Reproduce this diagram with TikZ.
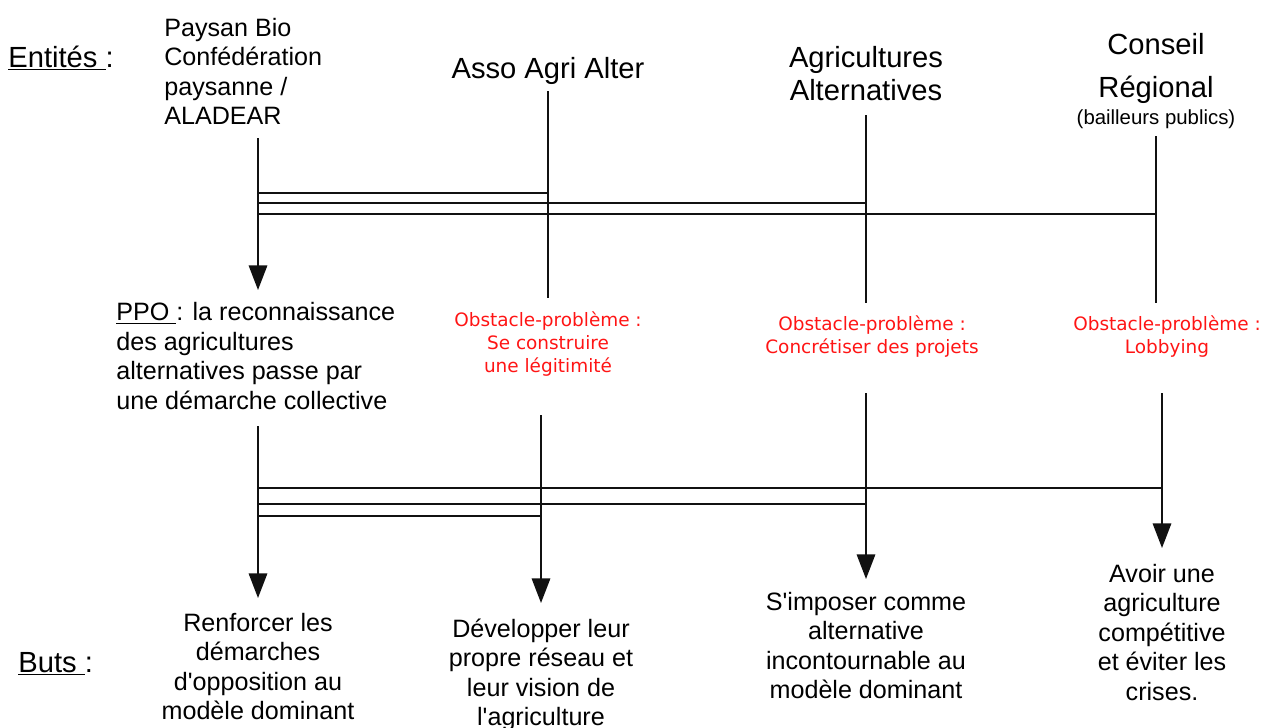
\documentclass[tikz,border=0pt]{standalone}
\usepackage{fontspec}
\setmainfont{Liberation Sans}
\newfontfamily\obsfont{DejaVu Sans}
\usetikzlibrary{arrows.meta,calc}
\definecolor{ink}{HTML}{111111}
\definecolor{obsred}{HTML}{FF1414}

\tikzset{
  txt/.style={inner sep=0pt, anchor=base, align=center},
  title/.style={txt, font=\fontsize{16.6}{19}\selectfont},
  body/.style={txt, font=\fontsize{14.3}{16.7}\selectfont},
  obs/.style={txt, text=obsred, font=\obsfont\fontsize{10.5}{13}\selectfont},
  link/.style={draw=ink, line width=1pt},
  arrow/.style={link, -{Triangle[length=14pt, width=10.5pt]}},
}

\begin{document}
\begin{tikzpicture}[x=0.02cm, y=-0.02cm]
  \useasboundingbox (0,0) rectangle (1264,727);

  % Row headings
  \node[title, anchor=base west] (entites) at (8,67) {\underline{Entités\ }:};
  \node[title, anchor=base west] (buts) at (18,672) {\underline{Buts\ }:};

  % Entities (multi-line nodes sit on their last baseline)
  \node[body, anchor=base west, align=left] (paysan) at (164,124.5)
    {Paysan Bio\\Confédération\\paysanne /\\ALADEAR};
  \node[title] (asso) at (548,78) {Asso Agri Alter};
  \node[title, font=\fontsize{16.6}{18.7}\selectfont] (agri) at (866,100)
    {Agricultures\\Alternatives};
  \node[title, font=\fontsize{16.6}{24.4}\selectfont] (conseil) at (1156,97)
    {Conseil\\Régional};
  \node[title, font=\fontsize{11.6}{14}\selectfont] (bailleurs) at (1156,124)
    {(bailleurs publics)};

  % PPO and obstacles
  \node[body, anchor=base west, align=left] (ppo) at (116,409)
    {\underline{PPO\ }: la reconnaissance\\des agricultures\\alternatives passe par\\une démarche collective};
  \node[obs] (obs2) at (548,372) {Obstacle-problème :\\Se construire\\une légitimité};
  \node[obs] (obs3) at (872,353) {Obstacle-problème :\\Concrétiser des projets};
  \node[obs] (obs4) at (1167,353) {Obstacle-problème :\\Lobbying};

  % Goals
  \node[body] (goal1) at (258,719.5)
    {Renforcer les\\démarches\\d\textquotesingle opposition au\\modèle dominant};
  \node[body] (goal2) at (541,725.5)
    {Développer leur\\propre réseau et\\leur vision de\\l\textquotesingle agriculture};
  \node[body] (goal3) at (866,698.5)
    {S\textquotesingle imposer comme\\alternative\\incontournable au\\modèle dominant};
  \node[body] (goal4) at (1162,700)
    {Avoir une\\agriculture\\compétitive\\et éviter les\\crises.};

  % Entity lines down to PPO / obstacles
  \draw[arrow] ($(paysan.base -| goal1.base)+(0,13.5)$) coordinate (a-top)
    -- ($(ppo.base -| goal1.base)+(0,-119)$);
  \draw[link] ($(asso.base)+(0,13)$) coordinate (b-top)
    -- ($(obs2.base -| asso.base)+(0,-74)$);
  \draw[link] ($(agri.base)+(0,15)$) coordinate (c-top)
    -- ($(obs3.base -| agri.base)+(0,-50)$);
  \draw[link] ($(conseil.base)+(0,39)$) coordinate (d-top)
    -- ($(obs4.base -| conseil.base)+(0,-50)$);

  % Upper links between the entity lines
  \draw[link] (a-top |- 0,193) -- (b-top |- 0,193);
  \draw[link] (a-top |- 0,203) -- (c-top |- 0,203);
  \draw[link] (a-top |- 0,214) -- (d-top |- 0,214);

  % Lines from PPO / obstacles down to the goals
  \draw[arrow] ($(ppo.base -| goal1.base)+(0,17)$) coordinate (a-low)
    -- ($(goal1.base)+(0,-121.5)$);
  \draw[arrow] ($(obs2.base -| goal2.base)+(0,43)$) coordinate (b-low)
    -- ($(goal2.base)+(0,-122.5)$);
  \draw[arrow] ($(obs3.base -| goal3.base)+(0,40)$) coordinate (c-low)
    -- ($(goal3.base)+(0,-119.5)$);
  \draw[arrow] ($(obs4.base -| goal4.base)+(0,40)$) coordinate (d-low)
    -- ($(goal4.base)+(0,-152)$);

  % Lower links
  \draw[link] (a-low |- 0,488) -- (d-low |- 0,488);
  \draw[link] (a-low |- 0,504) -- (c-low |- 0,504);
  \draw[link] (a-low |- 0,516) -- (b-low |- 0,516);
\end{tikzpicture}
\end{document}
